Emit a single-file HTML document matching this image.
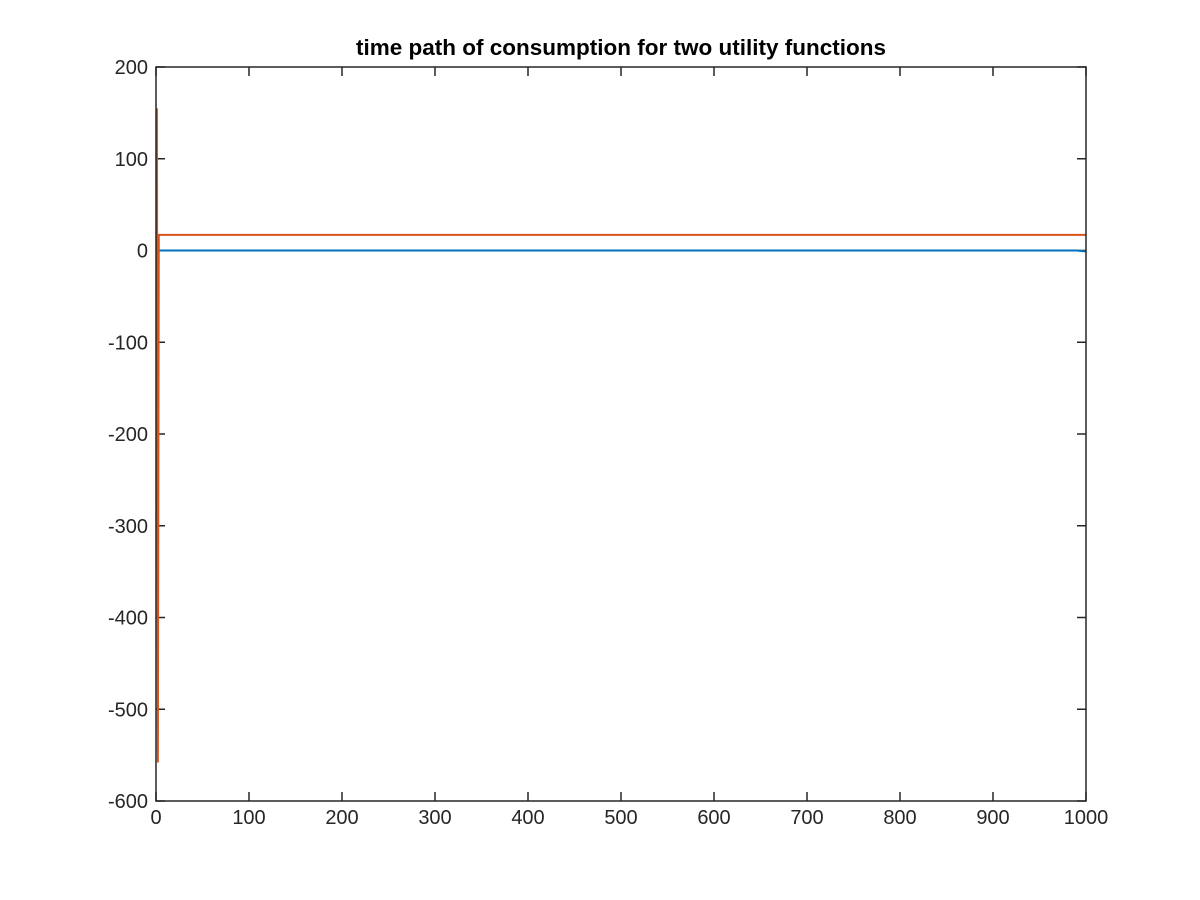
<!DOCTYPE html>
<html><head><meta charset="utf-8"><style>
body{margin:0;background:#fff;}
svg{display:block;font-family:"Liberation Sans",Arial,sans-serif;}
</style></head><body>
<svg id="chart" width="1200" height="900">
<rect width="1200" height="900" fill="#fff"/>
<text x="621" y="55" text-anchor="middle" font-size="22.5" font-weight="bold" fill="#000">time path of consumption for two utility functions</text>
<g id="grid"></g>
<g id="series"></g>
<rect x="156" y="67" width="930" height="734" fill="none" stroke="#262626" stroke-width="1.5"/>
</svg>
<script>
const xTicks=[0,100,200,300,400,500,600,700,800,900,1000];
const yTicks=[200,100,0,-100,-200,-300,-400,-500,-600];
const orangeX=[1,2,3,1000];
const orangeY=[155,-558,17,17];
const blueX=[1,990,999,1000];
const blueY=[0,0,-1,-1];
const L=156,R=1086,T=67,B=801;
const xs=v=>L+(v-0)/(1000-0)*(R-L);
const ys=v=>B-(v+600)/800*(B-T);
const NS="http://www.w3.org/2000/svg";
const g=document.getElementById('grid'),s=document.getElementById('series');
function mk(tag,at,parent){const e=document.createElementNS(NS,tag);for(const k in at)e.setAttribute(k,at[k]);parent.appendChild(e);return e;}
xTicks.forEach(v=>{
 const x=xs(v);
 const t1=mk('line',{x1:x,x2:x,y1:B,y2:B-9,stroke:'#262626','stroke-width':1.5},g);
 
 
 const t2=mk('line',{x1:x,x2:x,y1:T,y2:T+9,stroke:'#262626','stroke-width':1.5},g);
 
 
 const tx=mk('text',{x:x,y:B+23,'text-anchor':'middle','font-size':20,fill:'#262626'},g);
 tx.textContent=v;
 
 
});
yTicks.forEach(v=>{
 const y=ys(v);
 const t1=mk('line',{x1:L,x2:L+9,y1:y,y2:y,stroke:'#262626','stroke-width':1.5},g);
 
 
 const t2=mk('line',{x1:R,x2:R-9,y1:y,y2:y,stroke:'#262626','stroke-width':1.5},g);
 
 
 const tx=mk('text',{x:L-8,y:y+7,'text-anchor':'end','font-size':20,fill:'#262626'},g);
 tx.textContent=v;
 
 
});
function line(X,Y,color,name){
 const p=mk('polyline',{points:X.map((x,i)=>xs(x)+','+ys(Y[i])).join(' '),fill:'none',stroke:color,'stroke-width':2},s);
 
 
}
line(blueX,blueY,'#0072BD','series-blue-line');
line(orangeX,orangeY,'#D95319','series-orange-line');
</script>
</body></html>
